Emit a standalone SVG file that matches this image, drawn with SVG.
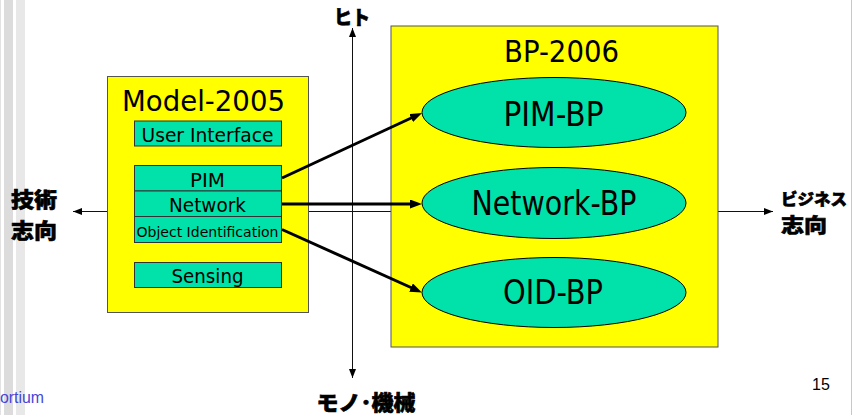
<svg xmlns="http://www.w3.org/2000/svg" width="854" height="415" viewBox="0 0 854 415">
  <style>
    .lat { font-family: "DejaVu Sans", "Liberation Sans", sans-serif; fill: #000; }
    .jp { font-family: "Noto Sans CJK JP", sans-serif; font-weight: 900; fill: #000; stroke: #000; stroke-width: 0.6; }
    .frame { fill: #ffff00; stroke: #555; stroke-width: 1; }
    .cell { fill: #00e2aa; stroke: #333; stroke-width: 1; }
    .oval { fill: #00e2aa; stroke: #000; stroke-width: 1; }
    .axis { stroke: #111; stroke-width: 1; fill: none; }
    .flow { stroke: #000; stroke-width: 3; fill: none; }
  </style>
  <defs>
    <marker id="axisHead" markerUnits="userSpaceOnUse" markerWidth="10" markerHeight="8" refX="9" refY="3.5" orient="auto-start-reverse">
      <path d="M0,0 L9,3.5 L0,7 z" fill="#000"/>
    </marker>
    <marker id="flowHead" markerUnits="userSpaceOnUse" markerWidth="14" markerHeight="10" refX="6" refY="4.5" orient="auto">
      <path d="M0,0 L12,4.5 L0,9 z" fill="#000"/>
    </marker>
  </defs>

  <!-- page background and side stripes -->
  <rect x="0" y="0" width="854" height="415" fill="#fff"/>
  <rect x="0" y="0" width="1" height="415" fill="#e2e2e2"/>
  <rect x="4" y="0" width="9" height="415" fill="#dcdcdc"/>
  <rect x="16" y="0" width="9" height="415" fill="#e8e8e8"/>
  <rect x="851" y="0" width="1" height="415" fill="#c8c8c8"/>

  <!-- orientation axes -->
  <g id="axes">
    <line class="axis" x1="73" y1="211.5" x2="773" y2="211.5" marker-start="url(#axisHead)" marker-end="url(#axisHead)"/>
    <line class="axis" x1="352.5" y1="28" x2="352.5" y2="378" marker-start="url(#axisHead)" marker-end="url(#axisHead)"/>
  </g>

  <!-- axis labels -->
  <g id="label-tech">
    <text class="jp" font-size="21"><tspan x="11" y="207" textLength="46" lengthAdjust="spacingAndGlyphs">技術</tspan><tspan x="11" y="238" textLength="46" lengthAdjust="spacingAndGlyphs">志向</tspan></text>
  </g>
  <g id="label-business">
    <text class="jp"><tspan x="781" y="205" font-size="15.5" textLength="66" lengthAdjust="spacingAndGlyphs">ビジネス</tspan><tspan x="781" y="233" font-size="20" textLength="46" lengthAdjust="spacingAndGlyphs">志向</tspan></text>
  </g>
  <g id="label-people">
    <text class="jp" x="352" y="25" font-size="20" text-anchor="middle" textLength="36" lengthAdjust="spacingAndGlyphs">ヒト</text>
  </g>
  <g id="label-things">
    <text class="jp" x="366" y="410" font-size="21" text-anchor="middle" textLength="99" lengthAdjust="spacingAndGlyphs">モノ･機械</text>
  </g>

  <!-- Model-2005 stack -->
  <g id="model-2005">
    <rect class="frame" x="107.5" y="76.5" width="201" height="236"/>
    <text class="lat" x="203.5" y="111" font-size="29" text-anchor="middle" textLength="163" lengthAdjust="spacingAndGlyphs">Model-2005</text>
  </g>
  <g id="user-interface">
    <rect class="cell" x="134.5" y="121" width="147" height="25"/>
    <text class="lat" x="207.5" y="141.5" font-size="19" text-anchor="middle" textLength="132" lengthAdjust="spacingAndGlyphs">User Interface</text>
  </g>
  <g id="pim">
    <rect class="cell" x="134.5" y="165.5" width="147" height="25.5"/>
    <text class="lat" x="207.5" y="186.5" font-size="19" text-anchor="middle" textLength="35" lengthAdjust="spacingAndGlyphs">PIM</text>
  </g>
  <g id="network">
    <rect class="cell" x="134.5" y="191" width="147" height="25.5"/>
    <text class="lat" x="207.5" y="212.3" font-size="19" text-anchor="middle" textLength="77" lengthAdjust="spacingAndGlyphs">Network</text>
  </g>
  <g id="object-identification">
    <rect class="cell" x="134.5" y="216.5" width="147" height="26"/>
    <text class="lat" x="207.5" y="236.5" font-size="14" text-anchor="middle" textLength="142" lengthAdjust="spacingAndGlyphs">Object Identification</text>
  </g>
  <g id="sensing">
    <rect class="cell" x="134.5" y="262.5" width="147" height="25"/>
    <text class="lat" x="207.5" y="283" font-size="19" text-anchor="middle" textLength="72" lengthAdjust="spacingAndGlyphs">Sensing</text>
  </g>

  <!-- BP-2006 group -->
  <g id="bp-2006">
    <rect class="frame" x="391" y="26" width="327" height="321"/>
    <text class="lat" x="561.5" y="62" font-size="30" text-anchor="middle" textLength="115" lengthAdjust="spacingAndGlyphs">BP-2006</text>
  </g>
  <g id="pim-bp">
    <ellipse class="oval" cx="554" cy="112.5" rx="132" ry="35"/>
    <text class="lat" x="553.5" y="126" font-size="33" text-anchor="middle" textLength="100" lengthAdjust="spacingAndGlyphs">PIM-BP</text>
  </g>
  <g id="network-bp">
    <ellipse class="oval" cx="554" cy="203" rx="132" ry="35.5"/>
    <text class="lat" x="554" y="214.5" font-size="33" text-anchor="middle" textLength="165" lengthAdjust="spacingAndGlyphs">Network-BP</text>
  </g>
  <g id="oid-bp">
    <ellipse class="oval" cx="554" cy="292.5" rx="132" ry="35"/>
    <text class="lat" x="553" y="304" font-size="33" text-anchor="middle" textLength="100" lengthAdjust="spacingAndGlyphs">OID-BP</text>
  </g>

  <!-- mapping arrows -->
  <g id="connectors">
    <line class="flow" x1="282" y1="178" x2="416.6" y2="115.5" marker-end="url(#flowHead)"/>
    <line class="flow" x1="282" y1="204" x2="416" y2="204" marker-end="url(#flowHead)"/>
    <line class="flow" x1="282" y1="229.5" x2="416.5" y2="290" marker-end="url(#flowHead)"/>
  </g>

  <!-- footer -->
  <text x="0" y="402.5" font-family="'Liberation Sans', sans-serif" font-size="16" fill="#4646d8" textLength="44" lengthAdjust="spacingAndGlyphs">ortium</text>
  <text x="821" y="389.5" font-family="'Liberation Sans', sans-serif" font-size="16" fill="#000" text-anchor="middle">15</text>
</svg>
